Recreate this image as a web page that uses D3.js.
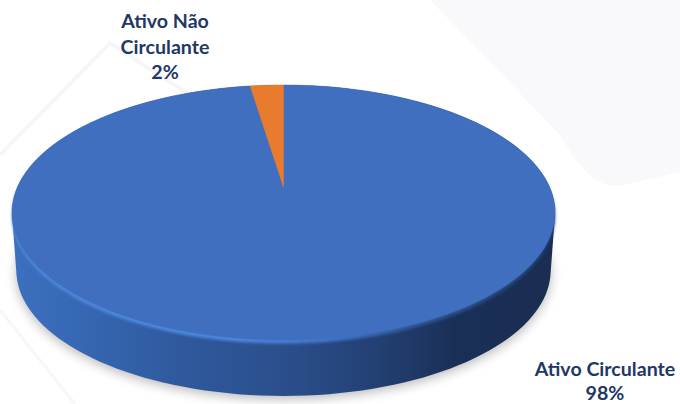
<!DOCTYPE html>
<html>
<head>
<meta charset="utf-8">
<script src="https://cdn.jsdelivr.net/npm/d3@7"></script>
<style>
  html, body { margin: 0; padding: 0; background: #fff; }
  svg { display: block; }
  text { font-family: Lato, "Open Sans", sans-serif; font-weight: 700; font-size: 19.6px; fill: #1f3864; }
</style>
</head>
<body>
<svg id="chart" width="680" height="404"></svg>
<script>
const categories = ['Ativo Circulante', 'Ativo Não Circulante'];
const shares = [97.6, 2.4];
const percentLabels = ['98%', '2%'];
const sliceColors = ['#3f6fbe', '#e97b2e'];

const svg = d3.select('#chart');
const defs = svg.append('defs');

// the pie is tilted, so its centre is not the middle of the ellipse
const disc = {cx: 283.5, cy: 187, rx: 266, squeeze: -0.2, lean: 85};
const wall = {drop: 58.4, shrink: 0.984};

const project = (angle, radius, dy = 0, k = 1) => {
    const u = Math.sin(angle) * radius;
    const v = -Math.cos(angle) * radius;
    const w = 1 + disc.squeeze * v;
    const y = (disc.lean * v + disc.cy) / w;
    return [disc.cx + (disc.rx * k * u) / w, disc.cy + dy + (y - disc.cy) * k];
};

const angleStep = d3.range(0, 2 * Math.PI + 0.01, Math.PI / 90);
const ringPoints = (dy = 0, k = 1) => angleStep.map(a => project(a, 1, dy, k));
const line = d3.line();
const closed = points => `${line(points)}Z`;

const slicePath = (d) => {
    const steps = Math.max(2, Math.ceil((d.endAngle - d.startAngle) / (Math.PI / 90)));
    const edge = d3.range(steps + 1)
        .map(i => project(d.startAngle + ((d.endAngle - d.startAngle) * i) / steps, 1));
    return closed([project(0, 0), ...edge]);
};

const addBlur = (id, deviation) => defs.append('filter')
    .attr('id', id)
    .attr('x', '-10%').attr('y', '-10%').attr('width', '120%').attr('height', '120%')
    .append('feGaussianBlur')
    .attr('stdDeviation', deviation);

const addGradient = (id, stops) => {
    const gradient = defs.append('linearGradient')
        .attr('id', id)
        .attr('x1', '0').attr('x2', '1').attr('y1', '0').attr('y2', '0');
    stops.forEach(([offset, color]) => gradient.append('stop')
        .attr('offset', offset)
        .attr('stop-color', color));
};

addBlur('soft', 6);
addBlur('rim', 1.8);
addGradient('wallFill', [
    [0, '#3c6fbf'], [0.12, '#3768b4'], [0.3, '#2f5a9e'], [0.5, '#2b4f8c'],
    [0.68, '#223f72'], [0.82, '#1a2f57'], [1, '#1a2d52'],
]);
addGradient('rimFill', [
    [0, '#4d88e0'], [0.4, '#4d88e0'], [0.6, '#4076c8'], [0.75, '#2e5596'], [1, '#21406f'],
]);

// faint watermark behind the chart
const watermark = svg.append('g');
watermark.append('path')
    .attr('d', 'M430,0L560,135Q590,190 620,186L680,172V0Z')
    .attr('fill', '#f9f9fb');
watermark.append('path')
    .attr('d', 'M0,155L110,43L190,95')
    .attr('fill', 'none')
    .attr('stroke', '#f6f6f8')
    .attr('stroke-width', 4);
watermark.append('path')
    .attr('d', 'M0,310L75,404')
    .attr('fill', 'none')
    .attr('stroke', '#f7f7f9')
    .attr('stroke-width', 3);

// drop shadow under the disc
svg.append('path')
    .attr('d', closed(ringPoints(wall.drop + 3, wall.shrink)))
    .attr('fill', '#000')
    .attr('opacity', 0.28)
    .attr('filter', 'url(#soft)');

// side wall, hull of the upper and lower rim
svg.append('path')
    .attr('d', closed(d3.polygonHull([...ringPoints(), ...ringPoints(wall.drop, wall.shrink)])))
    .attr('fill', 'url(#wallFill)');

// bevel along the front rim
svg.append('path')
    .attr('d', closed(ringPoints(3.5)))
    .attr('fill', 'url(#rimFill)')
    .attr('filter', 'url(#rim)');

const pie = d3.pie().sort(null).value(d => d);
const slices = pie(shares);

svg.append('g')
    .selectAll('path')
    .data(slices)
    .join('path')
    .attr('d', slicePath)
    .attr('fill', (d, i) => sliceColors[i])
    .attr('stroke', (d, i) => sliceColors[i])
    .attr('stroke-width', 0.5);

// data labels
const labelLines = [
    [categories[0], percentLabels[0]],
    ['Ativo Não', 'Circulante', percentLabels[1]],
];
const labelAnchors = [[605, 376], [165, 28]];
const labelLeading = [24, 25.7];

labelLines.forEach((rows, i) => {
    svg.append('text')
        .attr('text-anchor', 'middle')
        .selectAll('tspan')
        .data(rows)
        .join('tspan')
        .attr('x', labelAnchors[i][0])
        .attr('y', (d, j) => labelAnchors[i][1] + j * labelLeading[i])
        .text(d => d);
});
</script>
</body>
</html>
